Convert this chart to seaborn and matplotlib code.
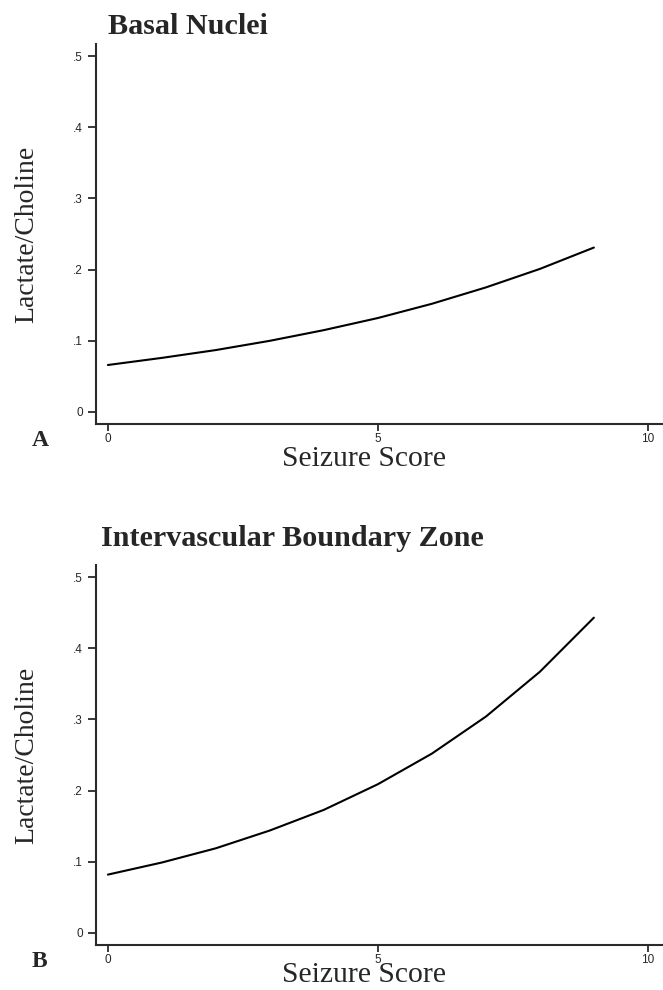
import pandas as pd
import matplotlib.pyplot as plt
import seaborn as sns

# values (fitted curves at integer seizure scores)
seizure_score = [0, 1, 2, 3, 4, 5, 6, 7, 8, 9]
basal_nuclei = [0.066, 0.076, 0.087, 0.100, 0.115, 0.132, 0.152, 0.175, 0.201, 0.231]
boundary_zone = [0.082, 0.099, 0.119, 0.144, 0.173, 0.209, 0.252, 0.304, 0.367, 0.443]

titles = ["Basal Nuclei", "Intervascular Boundary Zone"]
panel_letters = ["A", "B"]
x_ticks = [0, 5, 10]
y_ticks = [0, 0.1, 0.2, 0.3, 0.4, 0.5]
y_tick_labels = ["0", ".1", ".2", ".3", ".4", ".5"]

df = pd.DataFrame({"score": seizure_score,
                   titles[0]: basal_nuclei,
                   titles[1]: boundary_zone})

sns.set_style("ticks")
plt.rcParams['font.family'] = ['Liberation Sans', 'DejaVu Sans']
serif = ['Liberation Serif', 'DejaVu Serif']

W, H = 663, 990
fig = plt.figure(figsize=(W / 100, H / 100), dpi=100)

# panel layout in pixels: (spine top, spine bottom, x-label baseline)
panels = [(44, 424, 466), (565, 945, 982)]

for i, (top, bottom, xlab_y) in enumerate(panels):
    ax = fig.add_axes([96 / W, 1 - bottom / H, 1 - 96 / W, (bottom - top) / H])
    sns.lineplot(data=df, x="score", y=titles[i], ax=ax, color="black", linewidth=1.5)
    ax.set_xlim(-0.22, 10.28)
    ax.set_ylim(-0.0169, 0.517)
    sns.despine(ax=ax)
    for s in ["left", "bottom"]:
        ax.spines[s].set_linewidth(1.5)
        ax.spines[s].set_color("#2a2a2a")
    ax.set_xticks(x_ticks)
    ax.set_xticklabels([str(t) for t in x_ticks])
    ax.set_yticks(y_ticks)
    ax.set_yticklabels(y_tick_labels)
    ax.tick_params(axis="y", direction="out", length=6, width=1.3,
                   labelsize=8.5, pad=3.3, color="#2a2a2a")
    ax.tick_params(axis="x", direction="out", length=5, width=1.3,
                   labelsize=8.5, pad=1.5, color="#2a2a2a")
    ax.set_xlabel("")
    ax.set_ylabel("")

    # axis labels
    fig.text(363.5 / W, 1 - xlab_y / H, "Seizure Score", family=serif,
             fontsize=21.3, ha="center", va="baseline")
    fig.text(27 / W, 1 - (top + bottom) / 2 / H, "Lactate/Choline", family=serif,
             fontsize=20, rotation=90, ha="center", va="center")
    # panel letter
    fig.text(32 / W, 1 - (bottom + 22) / H, panel_letters[i], family=serif,
             fontsize=17, fontweight="bold", ha="left", va="baseline")

# panel titles
fig.text(108 / W, 1 - 34 / H, titles[0], family=serif, fontsize=21.7,
         fontweight="bold", ha="left", va="baseline")
fig.text(101 / W, 1 - 546 / H, titles[1], family=serif, fontsize=21.7,
         fontweight="bold", ha="left", va="baseline")

plt.savefig("out.png", dpi=100)
